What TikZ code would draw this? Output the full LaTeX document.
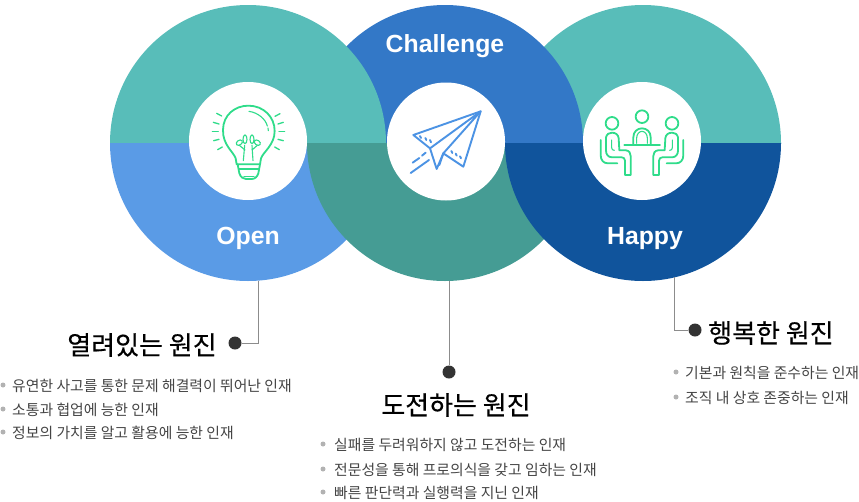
\documentclass[tikz,border=0pt]{standalone}
\usepackage{fontspec}
\setmainfont{Liberation Sans}
\newfontfamily\kr{Noto Sans CJK KR}
\newfontfamily\krt[FakeBold=0.35]{Noto Sans CJK KR}
\usetikzlibrary{calc}
\definecolor{cTeal}{HTML}{58BDB9}
\definecolor{cBlue}{HTML}{3378C7}
\definecolor{cSky}{HTML}{5A9BE6}
\definecolor{cGreen}{HTML}{459C94}
\definecolor{cNavy}{HTML}{10549C}
\definecolor{cIconG}{HTML}{2FDC8A}
\definecolor{cIconB}{HTML}{4C93E4}
\definecolor{cDot}{HTML}{333333}
\definecolor{cTxt}{HTML}{444444}
\tikzset{
 leader/.style={draw=black!45,line width=0.9pt},
 dotnode/.style={circle,fill=cDot,inner sep=0pt,minimum size=13pt},
 caption/.style={font={\fontsize{24.8}{28}\selectfont\bfseries},text=white},
 titletxt/.style={font={\krt\fontsize{26}{30}\selectfont},text=black,inner sep=0pt},
 itemtxt/.style={font={\kr\fontsize{14.85}{18}\selectfont},text=cTxt,anchor=west,inner sep=0pt},
 bulletmark/.style={circle,fill=black!30,inner sep=0pt,minimum size=5pt},
 iconG/.style={draw=cIconG,line width=1.8pt,line join=round,line cap=round},
 iconGthin/.style={draw=cIconG,line width=1.1pt,line cap=round},
 iconB/.style={draw=cIconB,line width=1.9pt,line join=round,line cap=round},
}
\begin{document}
\begin{tikzpicture}[x=1pt,y=-1pt]
\useasboundingbox (0,0) rectangle (859,501);
% upper halves
\begin{scope}
\clip (0,0) rectangle (859,143);
\fill[cTeal] (643,143) circle[radius=138];
\fill[cBlue] (445,143) circle[radius=138];
\fill[cTeal] (248,143) circle[radius=138];
\end{scope}
% lower halves
\begin{scope}
\clip (0,143) rectangle (859,300);
\fill[cSky] (248,143) circle[radius=138];
\fill[cGreen] (445,143) circle[radius=138];
\fill[cNavy] (643,143) circle[radius=138];
\end{scope}
% white discs
\fill[white] (248,141) circle[radius=59];
\fill[white] (446,141.5) circle[radius=59];
\fill[white] (642,141) circle[radius=59];
% captions
\node[caption] (capC) at (445,46) {Challenge};
\node[caption] (capO) at (248,238) {Open};
\node[caption] (capH) at (645,239) {Happy};
% bulb
\begin{scope}[shift={(180,70)},scale=1/3]
\draw[iconG] (170,283) -- (167,265) .. controls (160,245) and (128,225) .. (129,180)
  .. controls (129,135) and (165,107) .. (205,107) .. controls (250,107) and (284,140) .. (284,183)
  .. controls (284,225) and (250,245) .. (243,265) -- (240,283) -- cycle;
\draw[iconG] (173,283) -- (178,310) .. controls (182,322) and (190,327) .. (198,327) -- (215,327)
  .. controls (225,327) and (232,320) .. (235,310) -- (240,283);
\draw[iconGthin] (178,297) -- (236,297) (192,319) -- (222,319);
\draw[iconGthin] (207,124) .. controls (235,128) and (257,148) .. (262,168) (264,174) -- (265,182);
\draw[iconGthin] (194,226) -- (190,272) (216,226) -- (219,272);
\draw[iconGthin] (178,218) ellipse[x radius=10,y radius=7,rotate=35];
\draw[iconGthin] (232,218) ellipse[x radius=10,y radius=7,rotate=-35];
\draw[iconGthin] (195,208) ellipse[x radius=6,y radius=13];
\draw[iconGthin] (216,208) ellipse[x radius=6,y radius=13];
\draw[iconGthin] (178,226) -- (195,240) (232,226) -- (216,240);
\foreach \a/\b/\c/\d in {110/130/125/138,100/157/117/162,97/185/115/185,101/212/117/208,113/239/127/231,
  300/131/285/139,310/157/294/162,314/185/297/185,310/212/294/208,298/239/284/231}
  \draw[iconGthin,line width=1.3pt] (\a,\b) -- (\c,\d);
\end{scope}
% plane
\begin{scope}[shift={(380,70)},scale=1/3]
\draw[iconB] (302,124) -- (100,195) -- (150,235) -- (170,297) -- (190,250) -- (250,290) -- cycle;
\draw[iconB] (302,124) -- (150,235) (302,124) -- (190,250) (190,250) -- (178,285);
\draw[iconB] (120,198) -- (123,204) (136,204) -- (139,210) (150,210) -- (153,217);
\draw[iconB] (214,243) -- (217,249) (227,251) -- (230,257) (240,259) -- (243,265);
\draw[iconB] (98,278) -- (118,264) (126,257) -- (137,248) (92,309) -- (147,270);
\end{scope}
% people
\begin{scope}[shift={(580,80)},scale=1/3]
\draw[iconG] (96,130) circle[radius=19] (186,110) circle[radius=19] (276,130) circle[radius=19];
\draw[iconG] (133,194) -- (240,194);
\draw[iconG] (160,194) -- (160,172) .. controls (160,155) and (172,145) .. (186,145) .. controls (200,145) and (212,155) .. (212,172) -- (212,194);
\draw[iconGthin] (170,190) -- (170,174) .. controls (170,162) and (178,154) .. (186,154) .. controls (194,154) and (202,162) .. (202,174) -- (202,190);
\foreach \m/\o in {1/0,-1/372}{
\begin{scope}[shift={(\o,0)},xscale=\m]
\draw[iconG] (78,172) .. controls (80,162) and (88,158) .. (96,158) .. controls (108,158) and (115,165) .. (116,175) -- (118,211) -- (138,211) .. controls (148,212) and (152,220) .. (152,228) -- (152,285) -- (135,285) -- (135,242) .. controls (135,235) and (130,232) .. (125,232) -- (96,232) .. controls (84,232) and (78,222) .. (78,212) -- cycle;
\draw[iconG] (62,180) -- (62,225) .. controls (62,240) and (70,250) .. (84,250) -- (112,250);
\draw[iconGthin] (95,180) -- (95,203) .. controls (95,208) and (98,211) .. (103,211);
\end{scope}}
\end{scope}
% titles
\node[titletxt] (t1) at (142,345) {열려있는 원진};
\node[titletxt] (t2) at (456,405) {도전하는 원진};
\node[titletxt] (t3) at (771,333) {행복한 원진};
% dots and leaders
\coordinate (c1) at (258,281);
\coordinate (c2) at (449,281);
\coordinate (c3) at (674,277);
\node[dotnode] (d1) at (235,343) {};
\node[dotnode] (d2) at (449,372) {};
\node[dotnode] (d3) at (695,330) {};
\draw[leader] (c1) |- (d1);
\draw[leader] (c2) -- (d2);
\draw[leader] (c3) |- (d3);
% items
\foreach \n/\bx/\tx/\yy/\s in {
 a/3/12/386/유연한 사고를 통한 문제 해결력이 뛰어난 인재,
 b/3/12/410/소통과 협업에 능한 인재,
 c/3/12/433/정보의 가치를 알고 활용에 능한 인재,
 d/323/334/445/실패를 두려워하지 않고 도전하는 인재,
 e/323/334/470/전문성을 통해 프로의식을 갖고 임하는 인재,
 f/323/334/493/빠른 판단력과 실행력을 지닌 인재,
 g/676/685/373/기본과 원칙을 준수하는 인재,
 h/676/685/398/조직 내 상호 존중하는 인재}{
 \node[bulletmark] (b\n) at (\bx,\yy-1) {};
 \node[itemtxt] (i\n) at (\tx,\yy) {\s};
}
\end{tikzpicture}
\end{document}
